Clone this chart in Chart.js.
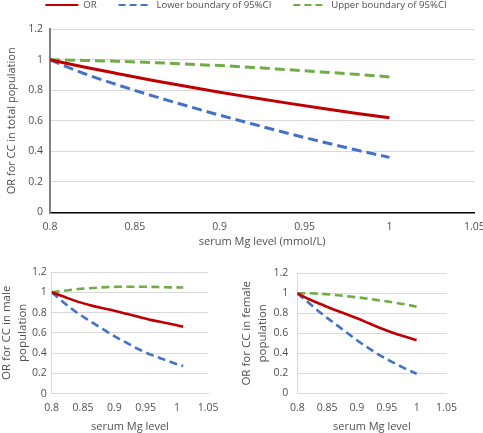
<!DOCTYPE html>
<html><head><meta charset="utf-8">
<script src="https://cdn.jsdelivr.net/npm/chart.js@4"></script>
<style>
html,body{margin:0;padding:0;background:#fff;width:483px;height:433px;overflow:hidden;position:relative}
canvas{position:absolute}
#cTotal{left:0;top:0}
#cMale{left:0;top:255px}
#cFemale{left:240px;top:255px}
</style></head><body>
<canvas id="cTotal" width="483" height="250"></canvas>
<canvas id="cMale" width="240" height="178"></canvas>
<canvas id="cFemale" width="243" height="178"></canvas>
<script>
// ---- data ----
const seriesNames = ['OR', 'Lower boundary of 95%CI', 'Upper boundary of 95%CI'];
const xTickLabels = ['0.8', '0.85', '0.9', '0.95', '1', '1.05'];
const yTickLabels = ['0', '0.2', '0.4', '0.6', '0.8', '1', '1.2'];

const xTotal   = [0.80, 0.82, 0.84, 0.86, 0.88, 0.90, 0.92, 0.94, 0.96, 0.98, 1.00];
const orTotal  = [1.00, 0.953, 0.909, 0.866, 0.826, 0.787, 0.751, 0.716, 0.682, 0.650, 0.620];
const lowTotal = [1.00, 0.910, 0.835, 0.765, 0.700, 0.637, 0.577, 0.518, 0.463, 0.410, 0.360];
const upTotal  = [1.00, 0.996, 0.990, 0.982, 0.972, 0.962, 0.950, 0.935, 0.920, 0.905, 0.888];

const xMale   = [0.80, 0.82, 0.84, 0.86, 0.88, 0.90, 0.92, 0.94, 0.96, 0.98, 1.00, 1.01];
const orMale  = [1.00, 0.955, 0.910, 0.875, 0.845, 0.818, 0.787, 0.755, 0.725, 0.700, 0.675, 0.660];
const lowMale = [1.00, 0.895, 0.800, 0.720, 0.643, 0.567, 0.500, 0.435, 0.380, 0.335, 0.290, 0.272];
const upMale  = [1.00, 1.015, 1.030, 1.040, 1.048, 1.053, 1.055, 1.055, 1.053, 1.050, 1.048, 1.047];

const xFemale   = [0.80, 0.82, 0.84, 0.86, 0.88, 0.90, 0.92, 0.94, 0.96, 0.98, 1.00];
const orFemale  = [1.00, 0.940, 0.890, 0.840, 0.795, 0.750, 0.700, 0.650, 0.605, 0.567, 0.533];
const lowFemale = [1.00, 0.900, 0.800, 0.710, 0.620, 0.530, 0.450, 0.375, 0.310, 0.250, 0.195];
const upFemale  = [1.00, 1.000, 0.995, 0.985, 0.973, 0.960, 0.945, 0.927, 0.910, 0.890, 0.866];

// ---- styling ----
const RED = '#C00000', BLUE = '#4472C4', GREEN = '#70AD47';
const TXT = '#505050', GRID = '#D9D9D9';
Chart.defaults.font.family = "'Open Sans', 'Liberation Sans', sans-serif";
Chart.defaults.color = TXT;

const pts = (xs, ys) => xs.map((x, i) => ({x: x, y: ys[i]}));

const legendSpace = {
  id: 'legendSpace',
  beforeLayout(chart, args, opts) {
    const lg = chart.legend;
    if (lg && opts && opts.height && !lg.__patched) {
      const f = lg.fit;
      lg.fit = function () { f.call(this); if (this.options.display) this.height = opts.height; };
      lg.__patched = true;
    }
  }
};

function makeChart(id, s) {
  const ds = [
    {label: seriesNames[0], data: pts(s.xs, s.or), borderColor: RED, backgroundColor: RED, borderWidth: s.lw, borderDash: []},
    {label: seriesNames[1], data: pts(s.xs, s.low), borderColor: BLUE, backgroundColor: BLUE, borderWidth: s.lw, borderDash: s.dash},
    {label: seriesNames[2], data: pts(s.xs, s.up), borderColor: GREEN, backgroundColor: GREEN, borderWidth: s.lw, borderDash: s.dash}
  ];
  ds.forEach(d => { d.pointRadius = 0; d.fill = false; d.tension = 0.3; d.cubicInterpolationMode = 'monotone'; d.borderCapStyle = 'butt'; });
  return new Chart(document.getElementById(id), {
    type: 'line',
    data: {datasets: ds},
    plugins: [legendSpace],
    options: {
      responsive: false, animation: false, devicePixelRatio: 1,
      layout: {padding: {left: s.padL, top: s.padT, right: 0, bottom: 0}},
      plugins: {
        tooltip: {enabled: false},
        legendSpace: {height: s.legendH || 0},
        legend: s.legend ? {
          display: true, position: 'top', align: 'center',
          labels: {
            usePointStyle: true, pointStyle: 'line', pointStyleWidth: 33, padding: 22,
            color: TXT, font: {size: 9.6},
            generateLabels: ch => Chart.defaults.plugins.legend.labels.generateLabels(ch)
              .map((l, i) => Object.assign(l, {lineWidth: 2, lineDash: i === 0 ? [] : [7, 4]}))
          }
        } : {display: false}
      },
      scales: {
        x: {
          type: 'linear', min: 0.8, max: 1.05,
          ticks: {stepSize: 0.05, autoSkip: false, maxRotation: 0, padding: s.xTickPad, color: TXT, font: {size: 10.5},
                  callback: (v, i) => xTickLabels[i]},
          grid: {display: false, drawTicks: false},
          border: {display: true, color: s.xBorder, width: s.xBorderW},
          title: {display: true, text: s.xTitle, color: TXT, font: {size: 11}, padding: {top: 0, bottom: s.xTitlePad}},
          afterFit(sc) { sc.height = s.H - s.B; sc.paddingLeft = 0; sc.paddingRight = s.W - s.R; }
        },
        y: {
          min: 0, max: 1.2,
          ticks: {stepSize: 0.2, padding: s.yTickPad, color: TXT, font: {size: 10.5},
                  callback: (v, i) => yTickLabels[i]},
          grid: {drawTicks: false, lineWidth: 1, color: c => (c.tick && c.tick.value === 0) ? 'rgba(0,0,0,0)' : GRID},
          border: {display: true, color: s.yBorder, width: s.yBorderW},
          title: {display: true, text: s.yTitle, color: TXT, font: {size: s.yTitleSize, lineHeight: s.yTitleLH}, padding: {top: s.yTitlePad, bottom: 0}},
          afterFit(sc) { sc.width = s.L - s.padL; sc.paddingTop = 0; sc.paddingBottom = 0; }
        }
      }
    }
  });
}

makeChart('cTotal', {
  xs: xTotal, or: orTotal, low: lowTotal, up: upTotal,
  W: 483, H: 250, L: 50, R: 474.3, B: 212.3, padL: 9, padT: -21.8, legend: true, legendH: 51.1,
  lw: 3, dash: [10, 5], xBorder: '#000000', xBorderW: 1.5, yBorder: '#808080', yBorderW: 2,
  xTickPad: 8, yTickPad: 7, xTitle: 'serum Mg level (mmol/L)', xTitlePad: 1.4,
  yTitle: 'OR for CC in total population', yTitleSize: 11, yTitleLH: 1.2, yTitlePad: -3.6
});
makeChart('cMale', {
  xs: xMale, or: orMale, low: lowMale, up: upMale,
  W: 240, H: 178, L: 51.7, R: 208.2, B: 138.6, padL: 0, padT: 17, legend: false,
  lw: 2.6, dash: [8, 4.5], xBorder: GRID, xBorderW: 1, yBorder: GRID, yBorderW: 1,
  xTickPad: 8, yTickPad: 5, xTitle: 'serum Mg level', xTitlePad: 0,
  yTitle: ['OR for CC in male', 'population'], yTitleSize: 11.5, yTitleLH: 1.39, yTitlePad: -1
});
makeChart('cFemale', {
  xs: xFemale, or: orFemale, low: lowFemale, up: upFemale,
  W: 243, H: 178, L: 57.3, R: 206.5, B: 138.3, padL: 0, padT: 18.3, legend: false,
  lw: 2.6, dash: [8, 4.5], xBorder: GRID, xBorderW: 1, yBorder: GRID, yBorderW: 1,
  xTickPad: 8, yTickPad: 9, xTitle: 'serum Mg level', xTitlePad: 0,
  yTitle: ['OR for CC in female', 'population'], yTitleSize: 11.5, yTitleLH: 1.39, yTitlePad: -1
});
</script>
</body></html>
